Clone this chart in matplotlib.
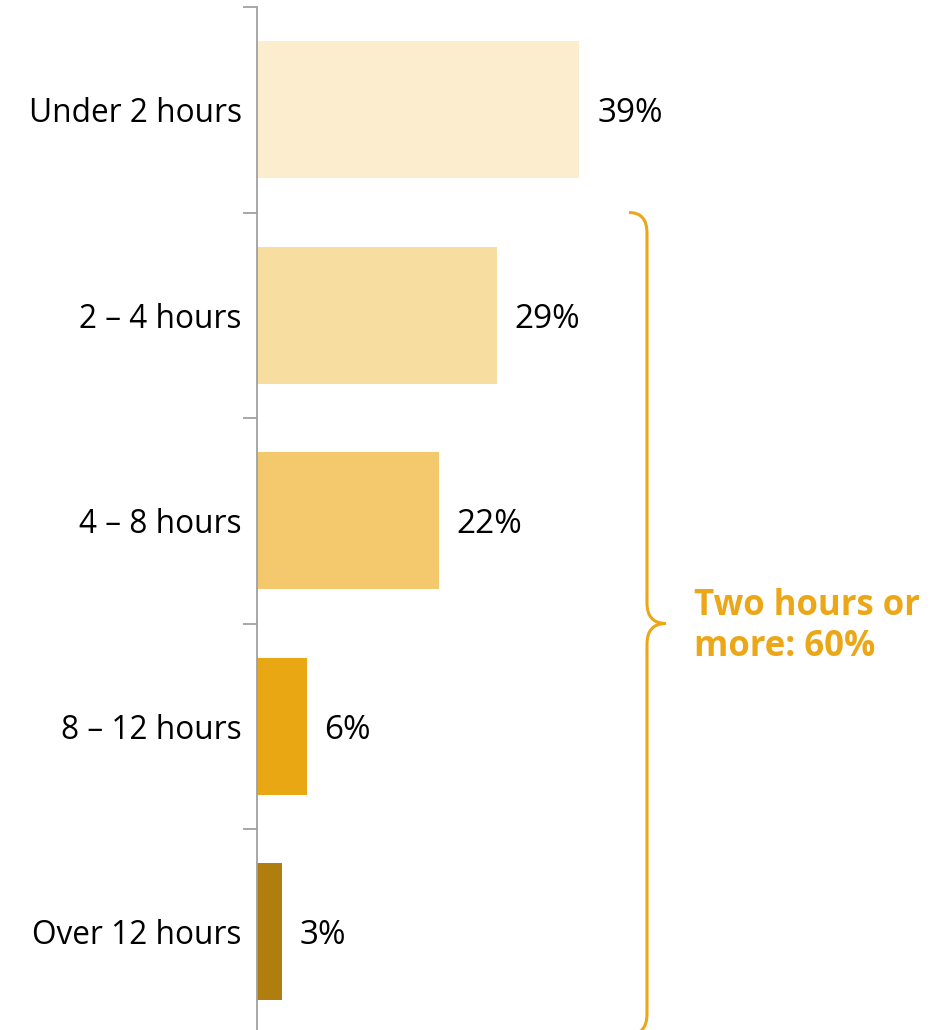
import matplotlib.pyplot as plt
from matplotlib.path import Path
from matplotlib.patches import PathPatch

plt.rcParams['font.family'] = ['Open Sans', 'DejaVu Sans']

categories = ['Under 2 hours', '2 – 4 hours', '4 – 8 hours', '8 – 12 hours', 'Over 12 hours']
values = [39, 29, 22, 6, 3]
value_labels = ['39%', '29%', '22%', '6%', '3%']
colors = ['#FCEDCF', '#F8DDA0', '#F4C96D', '#E8A713', '#B07E0F']
brace_text = 'Two hours or\nmore: 60%'
accent = '#EBA717'

fig = plt.figure(figsize=(9.49, 10.30), dpi=100)
# axes: x from px 257 to right edge, y from px 7 to 1034.5 (slightly below the canvas)
ax = fig.add_axes([257 / 949, (1030 - 1034.5) / 1030, 1 - 257 / 949, (1034.5 - 7) / 1030])

px_per_pct = 8.26
ax.set_xlim(0, (949 - 257) / px_per_pct)
ax.set_ylim(len(categories) - 0.5, -0.5)

ypos = list(range(len(categories)))
ax.barh(ypos, values, height=0.667, color=colors)

for y, v, lab in zip(ypos, values, value_labels):
    ax.text(v + 18 / px_per_pct, y + 0.02, lab, va='center', ha='left', fontsize=24, color='black')

for s in ['top', 'right', 'bottom']:
    ax.spines[s].set_visible(False)
ax.spines['left'].set_color('#A0A0A0')
ax.spines['left'].set_linewidth(1.3)

ax.set_xticks([])
ax.set_yticks(ypos)
ax.set_yticklabels(categories, fontsize=22.8, color='black')
ax.tick_params(axis='y', which='major', length=0, pad=11)
ax.set_yticks([i - 0.5 for i in range(len(categories) + 1)], minor=True)
ax.tick_params(axis='y', which='minor', length=10, width=1.3, color='#A0A0A0')

# curly brace spanning rows 2-5
bx = (647 - 257) / px_per_pct
rx = 18 / px_per_pct
tip = 19 / px_per_pct
ry = 0.1
top, mid, bot = 0.5, 2.5, 4.5
verts = [
    (bx - rx, top), (bx, top), (bx, top + ry),
    (bx, mid - ry),
    (bx, mid), (bx + tip, mid),
    (bx, mid), (bx, mid + ry),
    (bx, bot - ry),
    (bx, bot), (bx - rx, bot),
]
codes = [Path.MOVETO, Path.CURVE3, Path.CURVE3, Path.LINETO,
         Path.CURVE3, Path.CURVE3, Path.CURVE3, Path.CURVE3,
         Path.LINETO, Path.CURVE3, Path.CURVE3]
ax.add_patch(PathPatch(Path(verts, codes), fill=False, edgecolor=accent, lw=2.2, clip_on=False))

ax.text((694 - 257) / px_per_pct, mid + 0.015, brace_text, ha='left', va='center',
        fontsize=25, fontweight='bold', color=accent, linespacing=1.2)

fig.savefig('out.png', dpi=100)
